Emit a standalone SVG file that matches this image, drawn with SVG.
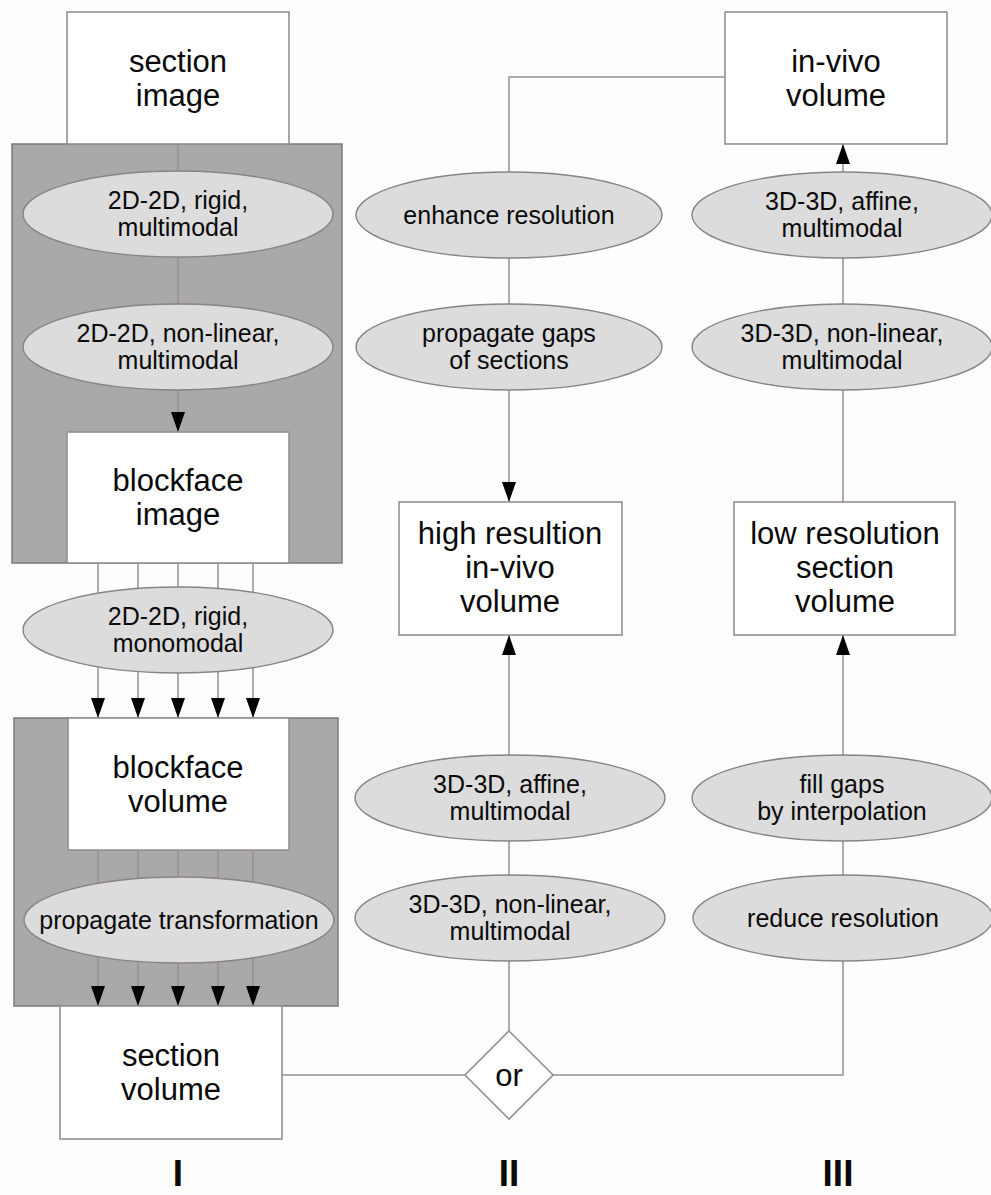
<svg xmlns="http://www.w3.org/2000/svg" width="991" height="1195" viewBox="0 0 991 1195">
<style>
.bg{fill:#fdfdfd}
.panel{fill:#a9a9a9;stroke:#7d7878;stroke-width:1.5}
.box{fill:#ffffff;stroke:#978f8f;stroke-width:1.6}
.ell{fill:#dcdcdc;stroke:#8c8282;stroke-width:1.4}
.dia{fill:#ffffff;stroke:#978f8f;stroke-width:1.6}
.conn{fill:none;stroke:#978f8f;stroke-width:1.5}
.arr{marker-end:url(#ah)}
text{font-family:"Liberation Sans",Arial,Helvetica,sans-serif;text-anchor:middle;fill:#0a0a0a}
.bt{font-size:31px}
.et{font-size:25px}
.lab{font-size:37px;font-weight:bold}
</style>
<defs>
<marker id="ah" markerUnits="userSpaceOnUse" markerWidth="20" markerHeight="14" viewBox="0 0 20 14" refX="20" refY="7" orient="auto">
<path d="M0,0 L20,7 L0,14 z" fill="#000"/>
</marker>
</defs>
<rect class="bg" x="0" y="0" width="991" height="1195"/>
<g id="panels">
<rect class="panel" x="12" y="144" width="330" height="419"/>
<rect class="panel" x="14" y="718" width="324" height="288"/>
</g>
<g id="connectors">
<path class="conn" d="M178,144 V171"/>
<path class="conn" d="M178,257 V304"/>
<path class="conn arr" d="M178,390 V432"/>
<path class="conn" d="M98,563 V593.2"/>
<path class="conn" d="M138,563 V588.5"/>
<path class="conn" d="M178,563 V587"/>
<path class="conn" d="M218,563 V588.5"/>
<path class="conn" d="M253,563 V592.4"/>
<path class="conn arr" d="M98,666.8 V718"/>
<path class="conn arr" d="M138,671.5 V718"/>
<path class="conn arr" d="M178,673 V718"/>
<path class="conn arr" d="M218,671.5 V718"/>
<path class="conn arr" d="M253,667.6 V718"/>
<path class="conn" d="M98,850 V883.2"/>
<path class="conn" d="M138,850 V878.5"/>
<path class="conn" d="M178,850 V877"/>
<path class="conn" d="M218,850 V878.4"/>
<path class="conn" d="M253,850 V882.2"/>
<path class="conn arr" d="M98,956.8 V1006"/>
<path class="conn arr" d="M138,961.5 V1006"/>
<path class="conn arr" d="M178,963 V1006"/>
<path class="conn arr" d="M218,961.6 V1006"/>
<path class="conn arr" d="M253,957.8 V1006"/>
<path class="conn" d="M282,1075 H465"/>
<path class="conn" d="M725,77 H509 V172"/>
<path class="conn" d="M509,258 V304"/>
<path class="conn arr" d="M509,390 V502"/>
<path class="conn arr" d="M509,755 V635"/>
<path class="conn" d="M509,841 V875"/>
<path class="conn" d="M509,961 V1031"/>
<path class="conn arr" d="M843,172 V144"/>
<path class="conn" d="M843,258 V304"/>
<path class="conn" d="M843,390 V502"/>
<path class="conn arr" d="M843,755 V635"/>
<path class="conn" d="M843,841 V875"/>
<path class="conn" d="M843,961 V1075 H553"/>
</g>
<g id="section-image"><rect class="box" x="67" y="12" width="222" height="132"/><text class="bt" x="178" y="72">section</text><text class="bt" x="178" y="106">image</text></g>
<g id="rigid-multimodal"><ellipse class="ell" cx="178" cy="214" rx="155" ry="43"/><text class="et" x="178" y="209">2D-2D, rigid,</text><text class="et" x="178" y="236">multimodal</text></g>
<g id="nonlinear-multimodal-2d"><ellipse class="ell" cx="178" cy="347" rx="155" ry="43"/><text class="et" x="178" y="342">2D-2D, non-linear,</text><text class="et" x="178" y="369">multimodal</text></g>
<g id="blockface-image"><rect class="box" x="67" y="432" width="222" height="131"/><text class="bt" x="178" y="491">blockface</text><text class="bt" x="178" y="525">image</text></g>
<g id="rigid-monomodal"><ellipse class="ell" cx="178" cy="630" rx="155" ry="43"/><text class="et" x="178" y="625">2D-2D, rigid,</text><text class="et" x="178" y="652">monomodal</text></g>
<g id="blockface-volume"><rect class="box" x="68" y="718" width="221" height="132"/><text class="bt" x="178" y="778">blockface</text><text class="bt" x="178" y="812">volume</text></g>
<g id="propagate-transformation"><ellipse class="ell" cx="179" cy="920" rx="155" ry="43"/><text class="et" x="179" y="929">propagate transformation</text></g>
<g id="section-volume"><rect class="box" x="60" y="1006" width="222" height="133"/><text class="bt" x="171" y="1066">section</text><text class="bt" x="171" y="1100">volume</text></g>
<g id="enhance-resolution"><ellipse class="ell" cx="509" cy="215" rx="153" ry="43"/><text class="et" x="509" y="224">enhance resolution</text></g>
<g id="propagate-gaps"><ellipse class="ell" cx="509" cy="347" rx="153" ry="43"/><text class="et" x="509" y="342">propagate gaps</text><text class="et" x="509" y="369">of sections</text></g>
<g id="high-res-invivo"><rect class="box" x="399" y="502" width="223" height="133"/><text class="bt" x="510" y="544">high resultion</text><text class="bt" x="510" y="578">in-vivo</text><text class="bt" x="510" y="612">volume</text></g>
<g id="affine-2"><ellipse class="ell" cx="510" cy="798" rx="155" ry="43"/><text class="et" x="510" y="793">3D-3D, affine,</text><text class="et" x="510" y="820">multimodal</text></g>
<g id="nonlinear-2"><ellipse class="ell" cx="510" cy="918" rx="155" ry="43"/><text class="et" x="510" y="913">3D-3D, non-linear,</text><text class="et" x="510" y="940">multimodal</text></g>
<g id="or"><polygon class="dia" points="509,1031 553,1075 509,1119 465,1075"/><text class="bt" x="509" y="1086">or</text></g>
<g id="in-vivo-volume"><rect class="box" x="725" y="12" width="222" height="132"/><text class="bt" x="836" y="72">in-vivo</text><text class="bt" x="836" y="106">volume</text></g>
<g id="affine-3"><ellipse class="ell" cx="842" cy="215" rx="150" ry="43"/><text class="et" x="842" y="210">3D-3D, affine,</text><text class="et" x="842" y="237">multimodal</text></g>
<g id="nonlinear-3"><ellipse class="ell" cx="842" cy="347" rx="150" ry="43"/><text class="et" x="842" y="342">3D-3D, non-linear,</text><text class="et" x="842" y="369">multimodal</text></g>
<g id="low-res-section"><rect class="box" x="734" y="502" width="221" height="133"/><text class="bt" x="845" y="544">low resolution</text><text class="bt" x="845" y="578">section</text><text class="bt" x="845" y="612">volume</text></g>
<g id="fill-gaps"><ellipse class="ell" cx="842" cy="798" rx="150" ry="43"/><text class="et" x="842" y="793">fill gaps</text><text class="et" x="842" y="820">by interpolation</text></g>
<g id="reduce-resolution"><ellipse class="ell" cx="843" cy="918" rx="150" ry="43"/><text class="et" x="843" y="927">reduce resolution</text></g>
<g id="labels"><text class="lab" x="178" y="1186">I</text><text class="lab" x="509" y="1186">II</text><text class="lab" x="838" y="1186">III</text></g>
</svg>
